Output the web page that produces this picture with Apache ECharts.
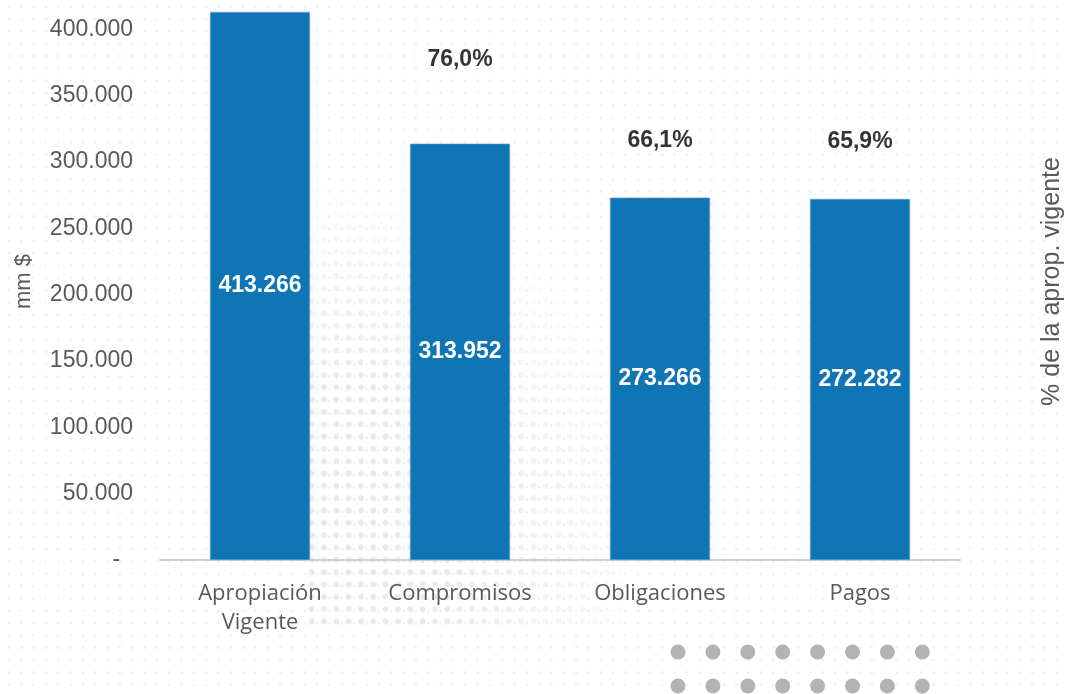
<!DOCTYPE html>
<html>
<head>
<meta charset="utf-8">
<script src="https://cdn.jsdelivr.net/npm/echarts@6/dist/echarts.min.js"></script>
<style>
  html, body { margin: 0; padding: 0; background: #ffffff; overflow: hidden; }
  #wrap { position: relative; width: 1065px; height: 694px; overflow: hidden; background: #ffffff; }
  #dots { position: absolute; left: 0; top: 0; width: 1065px; height: 694px;
    background-image: radial-gradient(circle, #ebebeb 0.8px, rgba(255,255,255,0) 1.5px);
    background-size: 12.33px 12.33px; background-position: 2.8px 0.5px; }
  #halftone { position: absolute; left: 303px; top: 170px; width: 320px; height: 455px;
    background-image: radial-gradient(circle, #e9e9ed 2.6px, rgba(255,255,255,0) 3.4px);
    background-size: 12.33px 12.33px; background-position: 2.5px 1.5px;
    -webkit-mask-image: radial-gradient(ellipse 330px 340px at 30px 350px, #000 40%, rgba(0,0,0,0.5) 72%, rgba(0,0,0,0) 100%);
    mask-image: radial-gradient(ellipse 330px 340px at 30px 350px, #000 40%, rgba(0,0,0,0.5) 72%, rgba(0,0,0,0) 100%); }
  #chart { position: absolute; left: 0; top: 0; width: 1065px; height: 694px; }
</style>
</head>
<body>
<div id="wrap">
  <div id="dots"></div>
  <div id="halftone"></div>
  <div id="chart"></div>
</div>
<script>
// ---- data ----
const categories = ['Apropiación\nVigente', 'Compromisos', 'Obligaciones', 'Pagos'];
const amounts = [413266, 313952, 273266, 272282];          // mm $
const pctOfApprop = [null, 76.0, 66.1, 65.9];               // % de la apropiación vigente
const yTicks = [0, 50000, 100000, 150000, 200000, 250000, 300000, 350000, 400000];

function thousands(v) {
  return String(Math.round(v)).replace(/\B(?=(\d{3})+(?!\d))/g, '.');
}

const chart = echarts.init(document.getElementById('chart'), null, { renderer: 'canvas', width: 1065, height: 694 });

// decorative grey dots bottom-right
const deco = [];
for (let r = 0; r < 2; r++) {
  for (let c = 0; c < 8; c++) {
    deco.push({ type: 'circle', shape: { cx: 678 + c * 34.9, cy: 652 + r * 34, r: 7.5 },
      style: { fill: '#b3b3b3' }, silent: true });
  }
}

chart.setOption({
  backgroundColor: 'transparent',
  animation: false,
  graphic: deco,
  grid: { left: 160, right: 105, top: 3, bottom: 134, containLabel: false, outerBoundsMode: 'none' },
  xAxis: {
    type: 'category',
    data: categories,
    axisLine: { lineStyle: { color: '#d0d0d0', width: 2 } },
    axisTick: { show: false },
    axisLabel: { color: '#595959', fontFamily: 'Open Sans', fontSize: 22, lineHeight: 29, margin: 19 }
  },
  yAxis: [
    {
      type: 'value', min: 0, max: 420000, interval: 50000,
      name: 'mm $', nameLocation: 'middle', nameGap: 125, nameRotate: 90,
      nameTextStyle: { color: '#595959', fontFamily: 'Liberation Sans', fontSize: 22 },
      axisLine: { show: false }, axisTick: { show: false }, splitLine: { show: false },
      axisLabel: {
        color: '#595959', fontFamily: 'Liberation Sans', fontSize: 23, margin: 27,
        showMaxLabel: false,
        formatter: v => (yTicks.indexOf(v) < 0 ? '' : (v === 0 ? '-  ' : thousands(v)))
      }
    },
    {
      type: 'value', min: 17, max: 85, position: 'right',
      name: '% de la aprop. vigente', nameLocation: 'middle', nameGap: 80, nameRotate: 90,
      nameTextStyle: { color: '#595959', fontFamily: 'Liberation Sans', fontSize: 25 },
      axisLine: { show: false }, axisTick: { show: false }, splitLine: { show: false },
      axisLabel: { show: false }
    }
  ],
  series: [
    {
      type: 'bar', data: amounts, barWidth: '50%', yAxisIndex: 0,
      itemStyle: { color: '#0f75b5', borderColor: '#5aa3d6', borderWidth: 0.6 },
      label: { show: true, position: 'inside', color: '#ffffff', fontFamily: 'Liberation Sans',
        fontWeight: 'bold', fontSize: 23, formatter: p => thousands(p.value) }
    },
    {
      type: 'scatter', data: pctOfApprop, yAxisIndex: 1, symbolSize: 2,
      itemStyle: { color: 'rgba(0,0,0,0)' },
      label: { show: true, position: 'top', distance: 5, color: '#000000', fontFamily: 'Liberation Sans',
        fontWeight: 'bold', fontSize: 23, formatter: p => p.value.toFixed(1).replace('.', ',') + '%' }
    }
  ]
});
</script>
</body>
</html>
